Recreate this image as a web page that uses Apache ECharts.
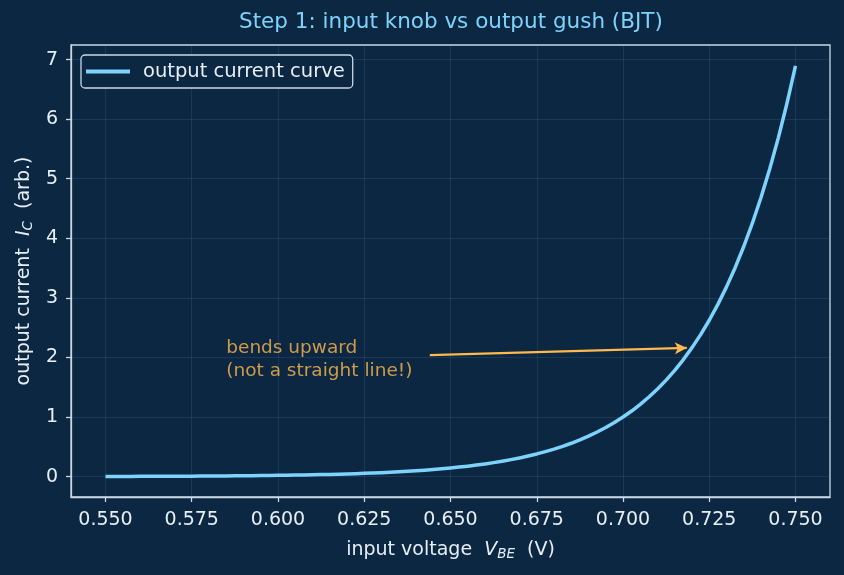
<!DOCTYPE html>
<html>
<head>
<meta charset="utf-8">
<script src="https://cdn.jsdelivr.net/npm/echarts@6/dist/echarts.min.js"></script>
<style>
html,body{margin:0;padding:0;background:#0c2742;}
#chart{width:844px;height:575px;}
</style>
</head>
<body>
<div id="chart"></div>
<script>
// Data
const vbe = [0.5500,0.5525,0.5550,0.5575,0.5600,0.5625,0.5650,0.5675,0.5700,0.5725,
             0.5750,0.5775,0.5800,0.5825,0.5850,0.5875,0.5900,0.5925,0.5950,0.5975,
             0.6000,0.6025,0.6050,0.6075,0.6100,0.6125,0.6150,0.6175,0.6200,0.6225,
             0.6250,0.6275,0.6300,0.6325,0.6350,0.6375,0.6400,0.6425,0.6450,0.6475,
             0.6500,0.6525,0.6550,0.6575,0.6600,0.6625,0.6650,0.6675,0.6700,0.6725,
             0.6750,0.6775,0.6800,0.6825,0.6850,0.6875,0.6900,0.6925,0.6950,0.6975,
             0.7000,0.7025,0.7050,0.7075,0.7100,0.7125,0.7150,0.7175,0.7200,0.7225,
             0.7250,0.7275,0.7300,0.7325,0.7350,0.7375,0.7400,0.7425,0.7450,0.7475,0.7500];
const ic = [0.0031,0.0034,0.0037,0.0041,0.0045,0.0050,0.0055,0.0060,0.0066,0.0073,
            0.0080,0.0088,0.0097,0.0107,0.0118,0.0130,0.0143,0.0158,0.0174,0.0192,
            0.0211,0.0232,0.0255,0.0281,0.0310,0.0341,0.0376,0.0414,0.0456,0.0502,
            0.0553,0.0609,0.0670,0.0738,0.0813,0.0895,0.0986,0.1086,0.1196,0.1317,
            0.145,0.160,0.176,0.194,0.213,0.235,0.259,0.285,0.314,0.346,
            0.381,0.420,0.462,0.509,0.560,0.617,0.680,0.749,0.824,0.908,
            1.000,1.101,1.213,1.336,1.471,1.620,1.784,1.965,2.165,2.384,
            2.625,2.891,3.185,3.507,3.863,4.254,4.685,5.160,5.682,6.258,6.893];
const xTicks = [0.550,0.575,0.600,0.625,0.650,0.675,0.700,0.725,0.750];
const yTicks = [0,1,2,3,4,5,6,7];
const seriesName = 'output current curve';
const titleText = 'Step 1: input knob vs output gush (BJT)';
const annotationText = 'bends upward\n(not a straight line!)';
const annotationAt = [0.585, 1.96];
const arrowFrom = [0.644, 2.04];
const arrowTo = [0.7185, 2.16];

const BG = '#0c2742';
const FG = '#e6eef6';
const SPINE = '#c9d8e6';
const GRID = 'rgba(140,180,215,0.13)';
const CURVE = '#7dd3fc';
const ORANGE = '#ffb84d';
const FONT = 'DejaVu Sans';

const chart = echarts.init(document.getElementById('chart'), null, {renderer:'canvas'});
chart.setOption({
  backgroundColor: BG,
  animation: false,
  textStyle: {fontFamily: FONT},
  title: {
    text: titleText,
    left: 239, top: 11, padding: 0,
    textStyle: {color: CURVE, fontSize: 21.5, fontWeight: 'normal', fontFamily: FONT}
  },
  legend: {
    data: [seriesName],
    left: 81, top: 55,
    padding: [6, 8, 6, 5],
    icon: 'rect',
    itemWidth: 44, itemHeight: 4,
    backgroundColor: BG,
    borderColor: SPINE, borderWidth: 1.3, borderRadius: 4,
    textStyle: {color: FG, fontSize: 19.5, fontFamily: FONT, padding: [0,0,0,8], lineHeight: 21}
  },
  grid: {left: 71, right: 14, top: 45, bottom: 78, containLabel: false,
         show: true, borderColor: SPINE, borderWidth: 1.3, backgroundColor: 'transparent'},
  xAxis: {
    type: 'value', min: 0.54, max: 0.76,
    name: '{n|input voltage  }{i|V}{s|BE}{n|  (V)}',
    nameLocation: 'middle', nameGap: 42,
    nameTextStyle: {
      color: FG, fontFamily: FONT,
      rich: {
        n: {fontSize: 19, color: FG, fontFamily: FONT},
        i: {fontSize: 19, color: FG, fontStyle: 'italic', fontFamily: FONT},
        s: {fontSize: 13.5, color: FG, fontStyle: 'italic', fontFamily: FONT, verticalAlign: 'bottom', padding: [8,0,0,0]}
      }
    },
    axisLine: {show: true, onZero: false, lineStyle: {color: SPINE, width: 1.3}},
    axisTick: {show: true, length: 5, lineStyle: {color: SPINE, width: 1.3}, customValues: xTicks},
    axisLabel: {color: FG, fontSize: 19, fontFamily: FONT, margin: 14, customValues: xTicks,
                formatter: v => v.toFixed(3)},
    splitLine: {show: true, lineStyle: {color: GRID, width: 1}}
  },
  yAxis: {
    type: 'value', min: -0.342, max: 7.245,
    name: '{n|output current  }{i|I}{s|C}{n|  (arb.)}',
    nameLocation: 'middle', nameGap: 35,
    nameTextStyle: {
      color: FG, fontFamily: FONT,
      rich: {
        n: {fontSize: 19, color: FG, fontFamily: FONT},
        i: {fontSize: 19, color: FG, fontStyle: 'italic', fontFamily: FONT},
        s: {fontSize: 13.5, color: FG, fontStyle: 'italic', fontFamily: FONT, verticalAlign: 'bottom', padding: [8,0,0,0]}
      }
    },
    axisLine: {show: true, onZero: false, lineStyle: {color: SPINE, width: 1.3}},
    axisTick: {show: true, length: 5, lineStyle: {color: SPINE, width: 1.3}, customValues: yTicks},
    axisLabel: {color: FG, fontSize: 19, fontFamily: FONT, margin: 13, customValues: yTicks},
    splitLine: {show: true, lineStyle: {color: GRID, width: 1}}
  },
  series: [
    {
      name: seriesName,
      type: 'line',
      data: vbe.map((v, i) => [v, ic[i]]),
      symbol: 'none',
      smooth: false,
      lineStyle: {color: CURVE, width: 3.5, join: 'round', cap: 'butt'},
      itemStyle: {color: CURVE},
      z: 3
    },
    {
      name: 'annotation',
      type: 'scatter',
      data: [annotationAt],
      symbolSize: 0,
      silent: true,
      label: {
        show: true, position: 'right', distance: 0,
        formatter: annotationText,
        color: ORANGE, fontSize: 18.5, fontFamily: FONT, lineHeight: 23,
        align: 'left', verticalAlign: 'middle'
      },
      markLine: {
        silent: true,
        symbol: ['none', 'arrow'],
        symbolSize: [9, 12],
        label: {show: false},
        lineStyle: {color: ORANGE, width: 2.2, type: 'solid'},
        data: [[{coord: arrowFrom}, {coord: arrowTo}]]
      },
      z: 4
    }
  ]
});
</script>
</body>
</html>
